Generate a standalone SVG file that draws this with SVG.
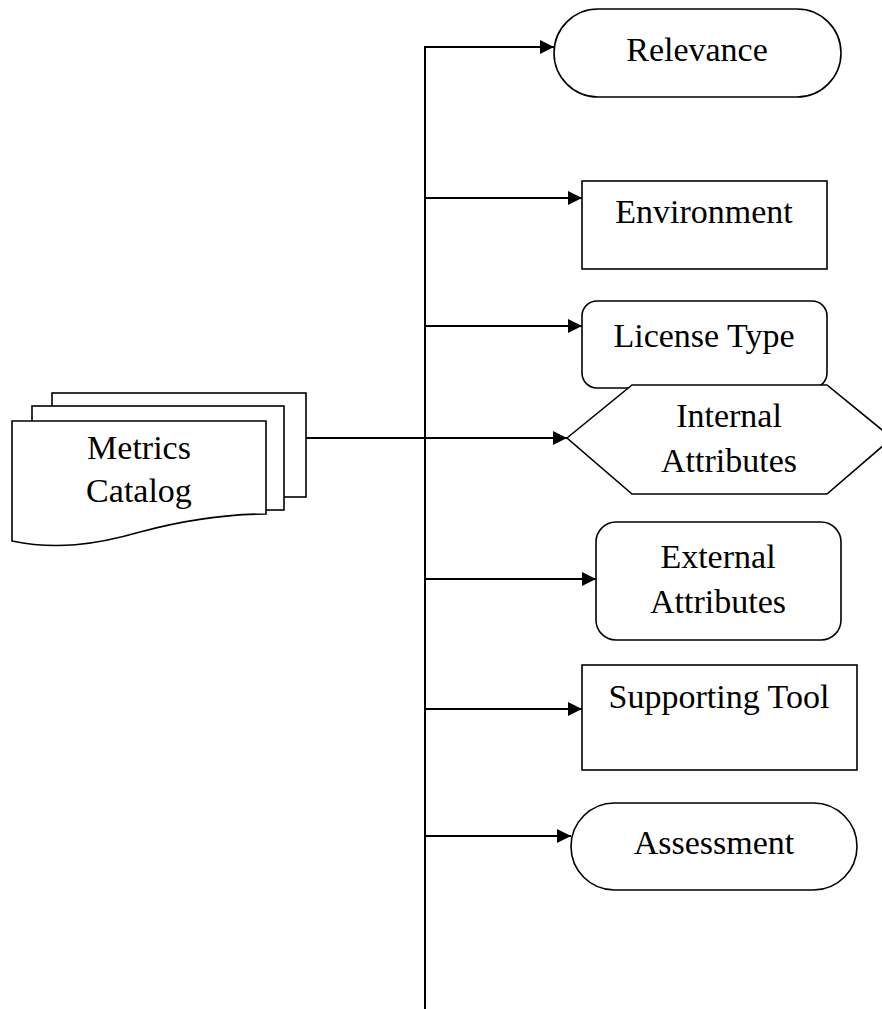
<svg xmlns="http://www.w3.org/2000/svg" width="882" height="1009" viewBox="0 0 882 1009">
<defs>
<style>
.s{fill:#fff;stroke:#000;stroke-width:1.6}
.c{fill:none;stroke:#000;stroke-width:2}
.t{font-family:"Liberation Serif","Times New Roman",serif;font-size:34px;fill:#000;text-anchor:middle}
</style>
<marker id="ah" markerUnits="userSpaceOnUse" markerWidth="15" markerHeight="16" refX="14" refY="7" orient="auto">
<path d="M0,0 L14,7 L0,14 z" fill="#000"/>
</marker>
</defs>
<rect width="882" height="1009" fill="#fff"/>
<g id="connectors">
<line class="c" x1="425" y1="46" x2="425" y2="1009"/>
<line class="c" x1="424" y1="47" x2="554" y2="47" marker-end="url(#ah)"/>
<line class="c" x1="425" y1="198" x2="582" y2="198" marker-end="url(#ah)"/>
<line class="c" x1="425" y1="326" x2="582" y2="326" marker-end="url(#ah)"/>
<line class="c" x1="306" y1="438" x2="567" y2="438" marker-end="url(#ah)"/>
<line class="c" x1="425" y1="579" x2="596" y2="579" marker-end="url(#ah)"/>
<line class="c" x1="425" y1="709" x2="582" y2="709" marker-end="url(#ah)"/>
<line class="c" x1="425" y1="836" x2="571" y2="836" marker-end="url(#ah)"/>
</g>
<g id="metrics-catalog">
<rect class="s" x="52" y="393" width="254" height="104"/>
<rect class="s" x="32" y="406" width="252" height="104"/>
<path class="s" d="M12,421 L266,421 L266,514 C225,514 185,520 140,532 C95,545 55,550 12,541 Z"/>
<text class="t" x="139" y="459">Metrics</text>
<text class="t" x="139" y="502">Catalog</text>
</g>
<g id="relevance">
<rect class="s" x="554" y="9" width="287" height="88" rx="44" ry="44"/>
<text class="t" x="697" y="61">Relevance</text>
</g>
<g id="environment">
<rect class="s" x="582" y="181" width="245" height="88"/>
<text class="t" x="704" y="223">Environment</text>
</g>
<g id="license-type">
<rect class="s" x="582" y="301" width="245" height="87" rx="15" ry="15"/>
<text class="t" x="704" y="347">License Type</text>
</g>
<g id="internal-attributes">
<polygon class="s" points="567,438 632,385 827,385 892,438 827,494 632,494"/>
<text class="t" x="729" y="427">Internal</text>
<text class="t" x="729" y="472">Attributes</text>
</g>
<g id="external-attributes">
<rect class="s" x="596" y="522" width="245" height="118" rx="20" ry="20"/>
<text class="t" x="718" y="568">External</text>
<text class="t" x="718" y="613">Attributes</text>
</g>
<g id="supporting-tool">
<rect class="s" x="582" y="665" width="275" height="105"/>
<text class="t" x="719" y="708">Supporting Tool</text>
</g>
<g id="assessment">
<rect class="s" x="571" y="803" width="286" height="87" rx="43.5" ry="43.5"/>
<text class="t" x="714" y="854">Assessment</text>
</g>
</svg>
